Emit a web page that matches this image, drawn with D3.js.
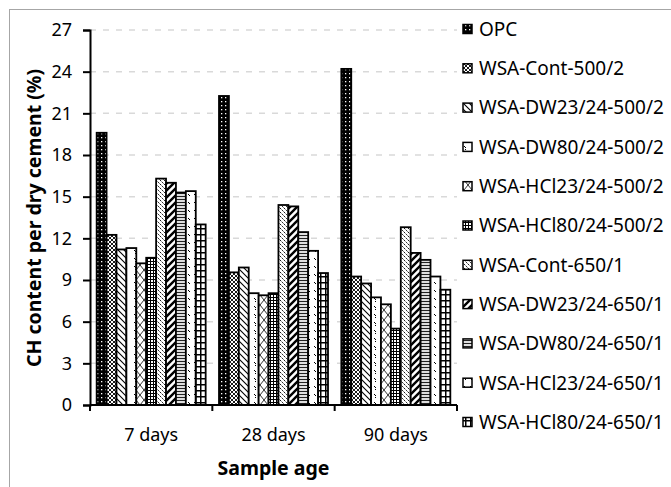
<!DOCTYPE html>
<html><head><meta charset="utf-8">
<script src="https://cdn.jsdelivr.net/npm/d3@7"></script>
<style>body{margin:0;background:#fff}svg{display:block}</style>
</head><body>
<svg id="c" width="671" height="487"></svg>
<script>
const categories = ["7 days", "28 days", "90 days"];
const seriesNames = ["OPC","WSA-Cont-500/2","WSA-DW23/24-500/2","WSA-DW80/24-500/2","WSA-HCl23/24-500/2","WSA-HCl80/24-500/2","WSA-Cont-650/1","WSA-DW23/24-650/1","WSA-DW80/24-650/1","WSA-HCl23/24-650/1","WSA-HCl80/24-650/1"];
const valOPC      = [19.6, 22.25, 24.2];
const valCont500  = [12.25, 9.55, 9.25];
const valDW23_500 = [11.2, 9.9, 8.75];
const valDW80_500 = [11.3, 8.05, 7.75];
const valHCl23_500= [10.2, 7.9, 7.25];
const valHCl80_500= [10.6, 8.05, 5.5];
const valCont650  = [16.3, 14.4, 12.8];
const valDW23_650 = [16.0, 14.3, 10.95];
const valDW80_650 = [15.3, 12.45, 10.45];
const valHCl23_650= [15.4, 11.1, 9.25];
const valHCl80_650= [13.0, 9.5, 8.3];
const yTicks = [0, 3, 6, 9, 12, 15, 18, 21, 24, 27];

const seriesValues = [valOPC,valCont500,valDW23_500,valDW80_500,valHCl23_500,valHCl80_500,valCont650,valDW23_650,valDW80_650,valHCl23_650,valHCl80_650];

const svg = d3.select("#c");
const FONT = "'Noto Sans', 'Open Sans', sans-serif";
const L = 90, R = 457, T = 30, B = 405;

// patterns
const defs = svg.append("defs");
function pat(id, w, h, bg, draw){
  const p = defs.append("pattern").attr("id", id).attr("patternUnits","userSpaceOnUse")
    .attr("width", w).attr("height", h);
  p.append("rect").attr("width", w).attr("height", h).attr("fill", bg);
  draw(p);
}
pat("p0", 4, 4, "#000", p => { p.append("rect").attr("x",1).attr("y",1).attr("width",1.3).attr("height",1.3).attr("fill","#fff"); });
pat("p1", 4, 4, "#fff", p => { p.append("path").attr("d","M0,0L4,4M4,0L0,4").attr("stroke","#000").attr("stroke-width",0.9); });
pat("p2", 6, 6, "#fff", p => { p.append("path").attr("d","M0,0L6,6M-1,5L1,7M5,-1L7,1").attr("stroke","#000").attr("stroke-width",1.1); });
pat("p3", 10, 8, "#fff", p => { p.append("path").attr("d","M4,2L6,4M5,5L6,6").attr("stroke","#000").attr("stroke-width",1); });
pat("p4", 8, 10, "#fff", p => { p.append("path").attr("d","M0,0L8,10M8,0L0,10").attr("stroke","#333").attr("stroke-width",1); });
pat("p5", 3, 3, "#fff", p => { p.append("path").attr("d","M0,0.5H3M0.5,0V3").attr("stroke","#000").attr("stroke-width",1); });
pat("p6", 4, 4, "#fff", p => { p.append("path").attr("d","M0,0L4,4M-1,3L1,5M3,-1L5,1").attr("stroke","#000").attr("stroke-width",0.9).attr("stroke-dasharray","2,1"); });
pat("p7", 7, 7, "#fff", p => { p.append("path").attr("d","M0,7L7,0M-2,2L2,-2M5,9L9,5").attr("stroke","#000").attr("stroke-width",2.4); });
pat("p8", 3, 3, "#fff", p => { p.append("path").attr("d","M0,1.5H3").attr("stroke","#222").attr("stroke-width",1.3); });
pat("p9", 6, 8, "#fff", p => { p.append("path").attr("d","M2,2L4,4").attr("stroke","#000").attr("stroke-width",1); });
pat("p10", 5, 6, "#fff", p => { p.append("path").attr("d","M0,0.75H5M0.75,0V6").attr("stroke","#000").attr("stroke-width",1.5); });

// border
svg.append("rect").attr("x",9.5).attr("y",9.5).attr("width",700).attr("height",600)
  .attr("fill","none").attr("stroke","#a6a6a6").attr("stroke-width",1);

const x0 = d3.scaleBand().domain(categories).range([L, R]).paddingInner(0.109).paddingOuter(0.0545);
const x1 = d3.scaleBand().domain(d3.range(seriesNames.length)).range([0, x0.bandwidth()]);
const y = d3.scaleLinear().domain([0, 27]).range([B, T]);

// gridlines
svg.append("g").selectAll("line").data(yTicks.filter(d => d > 0)).join("line")
  .attr("x1", L).attr("x2", R).attr("y1", d => y(d)).attr("y2", d => y(d))
  .attr("stroke","#d9d9d9").attr("stroke-width",1.5).attr("stroke-dasharray","6,7");

// bars
const g = svg.append("g");
categories.forEach((c, ci) => {
  seriesValues.forEach((vals, si) => {
    g.append("rect")
      .attr("x", x0(c) + x1(si)).attr("width", x1.bandwidth())
      .attr("y", y(vals[ci])).attr("height", y(0) - y(vals[ci]))
      .attr("fill", `url(#p${si})`).attr("stroke","#000").attr("stroke-width",1.8);
  });
});

// y axis
const yAxis = d3.axisLeft(y).tickValues(yTicks).tickSize(7).tickPadding(11);
const ya = svg.append("g").attr("transform",`translate(${L},0)`).call(yAxis);
ya.select(".domain").attr("stroke","#000").attr("stroke-width",2);
ya.selectAll(".tick line").attr("stroke","#000").attr("stroke-width",2);
ya.selectAll(".tick text").attr("font-family",FONT).attr("font-size",18).attr("fill","#000");

// x axis
const xa = svg.append("g").attr("transform",`translate(0,${B})`);
xa.append("line").attr("x1",L).attr("x2",R).attr("stroke","#000").attr("stroke-width",2);
const bounds = categories.map(c => x0(c) - x0.step()*x0.paddingInner()/2);
bounds.push(R);
xa.selectAll("line.t").data(bounds).join("line").attr("class","t")
  .attr("x1", d => d).attr("x2", d => d).attr("y1",0).attr("y2",6).attr("stroke","#000").attr("stroke-width",2);
xa.selectAll("text").data(categories).join("text")
  .attr("x", d => x0(d) + x0.bandwidth()/2).attr("y", 36)
  .attr("text-anchor","middle").attr("font-family",FONT).attr("font-size",18).text(d => d);

// titles
svg.append("text").attr("x", (L+R)/2).attr("y", 475).attr("text-anchor","middle")
  .attr("font-family",FONT).attr("font-weight","bold").attr("font-size",19.5).text("Sample age");
svg.append("text").attr("transform","translate(41,218) rotate(-90)").attr("text-anchor","middle")
  .attr("font-family",FONT).attr("font-weight","bold").attr("font-size",19.5).text("CH content per dry cement (%)");

// legend
const lg = svg.append("g");
seriesNames.forEach((n, i) => {
  const cy = 29 + i * 39.3;
  lg.append("rect").attr("x",463).attr("y",cy-4.5).attr("width",9).attr("height",9)
    .attr("fill",`url(#p${i})`).attr("stroke","#000").attr("stroke-width",1.5);
  lg.append("text").attr("x",479).attr("y",cy).attr("dy","0.36em")
    .attr("font-family",FONT).attr("font-size",19).text(n);
});
</script>
</body></html>
